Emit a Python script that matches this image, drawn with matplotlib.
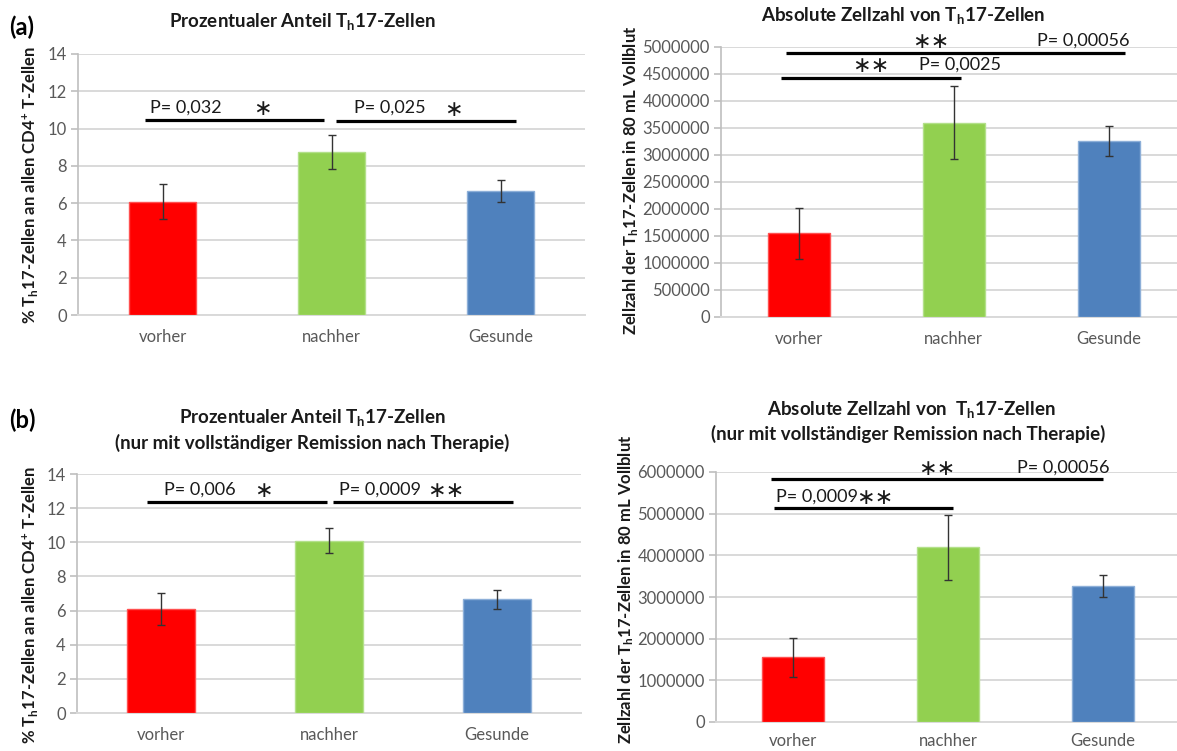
import matplotlib
matplotlib.use("Agg")
import matplotlib.pyplot as plt
from matplotlib.ticker import FuncFormatter

plt.rcParams["font.family"] = ["Lato", "DejaVu Sans"]
plt.rcParams["mathtext.fontset"] = "custom"
plt.rcParams["mathtext.rm"] = "Lato"
plt.rcParams["mathtext.bf"] = "Lato:bold"
plt.rcParams["mathtext.it"] = "Lato:italic"

# ---- data ----
categories = ["vorher", "nachher", "Gesunde"]
bar_colors = ["#FF0000", "#92D050", "#4F81BD"]
edge_colors = ["#FF5050", "#B3E08A", "#8DAFD8"]

pct_all = [6.08, 8.75, 6.65]
pct_all_err = [0.94, 0.90, 0.57]
abs_all = [1550000, 3600000, 3260000]
abs_all_err = [470000, 680000, 270000]

pct_rem = [6.10, 10.10, 6.65]
pct_rem_err = [0.94, 0.73, 0.57]
abs_rem = [1550000, 4200000, 3270000]
abs_rem_err = [470000, 780000, 270000]

W, H = 1177, 751
fig = plt.figure(figsize=(W / 100, H / 100), dpi=100)


def px_axes(left, top, right, bottom):
    return fig.add_axes([left / W, 1 - bottom / H, (right - left) / W, (bottom - top) / H])


def ftext(x, y, s, **kw):
    fig.text(x / W, 1 - y / H, s, **kw)


GRID = "#D9D9D9"
TICK = "#595959"


def bar_panel(ax, values, errors, ymax, ystep, intfmt=False, xpad=10):
    x = range(len(categories))
    ax.bar(x, values, width=0.4, color=bar_colors, edgecolor=edge_colors,
           linewidth=1.0, zorder=3)
    ax.errorbar(x, values, yerr=errors, fmt="none", ecolor="#333333",
                elinewidth=1.0, capsize=2.6, capthick=1.0, zorder=4)
    ax.set_xlim(-0.5, 2.5)
    ax.set_ylim(0, ymax)
    ax.set_yticks([i * ystep for i in range(int(round(ymax / ystep)) + 1)])
    ax.set_xticks(list(x))
    ax.set_xticklabels(categories)
    ax.yaxis.grid(True, color=GRID, linewidth=1.4, zorder=0)
    ax.set_axisbelow(True)
    for s in ("top", "right"):
        ax.spines[s].set_visible(False)
    ax.spines["left"].set_color("#BFBFBF")
    ax.spines["bottom"].set_color(GRID)
    ax.spines["left"].set_linewidth(1.2)
    ax.spines["bottom"].set_linewidth(1.4)
    ax.tick_params(axis="y", length=5, width=1.2, color="#BFBFBF",
                   labelcolor=TICK, labelsize=12, pad=3)
    ax.tick_params(axis="x", length=0, labelcolor=TICK, labelsize=12, pad=xpad)
    if intfmt:
        ax.yaxis.set_major_formatter(FuncFormatter(lambda v, p: "%d" % v))


def bracket(ax, x0, x1, y):
    ax.plot([x0, x1], [y, y], color="black", linewidth=2.3,
            solid_capstyle="butt", clip_on=False, zorder=5)


def note(ax, x, y, s, ha="left"):
    ax.text(x, y, s, ha=ha, va="center", fontsize=13, color="#1A1A1A",
            clip_on=False, zorder=6)


def stars(ax, x, y, n):
    ax.text(x, y, "\u2217" * n, ha="center", va="center", fontsize=16,
            color="#1A1A1A", clip_on=False, zorder=6)


# ---- (a) percentage ----
ax1 = px_axes(78, 54, 585, 315)
bar_panel(ax1, pct_all, pct_all_err, 14, 2)
bracket(ax1, -0.104, 0.956, 10.47)
bracket(ax1, 1.027, 2.09, 10.42)
note(ax1, -0.074, 11.15, "P= 0,032")
stars(ax1, 0.589, 11.05, 1)
note(ax1, 1.133, 11.1, "P= 0,025")
stars(ax1, 1.719, 11.0, 1)

# ---- (a) absolute count ----
ax2 = px_axes(721, 47, 1186, 317)
bar_panel(ax2, abs_all, abs_all_err, 5000000, 500000, intfmt=True)
bracket(ax2, -0.083, 2.105, 4895000)
bracket(ax2, -0.112, 1.05, 4420000)
stars(ax2, 0.852, 5100000, 2)
note(ax2, 1.539, 5120000, "P= 0,00056")
stars(ax2, 0.465, 4650000, 2)
note(ax2, 0.78, 4670000, "P= 0,0025")

# ---- (b) percentage, complete remission ----
ax3 = px_axes(77, 474, 581, 713)
bar_panel(ax3, pct_rem, pct_rem_err, 14, 2)
bracket(ax3, -0.082, 0.987, 12.36)
bracket(ax3, 1.024, 2.095, 12.36)
note(ax3, 0.019, 13.07, "P= 0,006")
stars(ax3, 0.611, 13.0, 1)
note(ax3, 1.057, 13.07, "P= 0,0009")
stars(ax3, 1.696, 13.0, 2)

# ---- (b) absolute count, complete remission ----
ax4 = px_axes(716, 472, 1180, 722)
bar_panel(ax4, abs_rem, abs_rem_err, 6000000, 1000000, intfmt=True, xpad=8)
bracket(ax4, -0.144, 2.005, 5840000)
bracket(ax4, -0.128, 1.034, 5145000)
stars(ax4, 0.93, 6080000, 2)
note(ax4, 1.448, 6100000, "P= 0,00056")
note(ax4, -0.112, 5400000, "P= 0,0009")
stars(ax4, 0.525, 5380000, 2)

# ---- titles and labels ----
TH = r"T$_\mathbf{h}$17-Zellen"
title_kw = dict(ha="center", va="center", fontsize=13.5, fontweight="bold", color="#1A1A1A")
ftext(302, 22, "Prozentualer Anteil " + TH, **title_kw)
ftext(903, 15, "Absolute Zellzahl von " + TH, **title_kw)
ftext(312, 418, "Prozentualer Anteil " + TH, **title_kw)
ftext(312, 443, "(nur mit vollständiger Remission nach Therapie)", **title_kw)
ftext(911, 410, "Absolute Zellzahl von  " + TH, **title_kw)
ftext(908, 434, "(nur mit vollständiger Remission nach Therapie)", **title_kw)

ftext(9, 27, "(a)", ha="left", va="center", fontsize=17, fontweight="bold")
ftext(9, 420, "(b)", ha="left", va="center", fontsize=17, fontweight="bold")

ylab_kw = dict(ha="center", va="center", rotation=90, fontsize=12,
               fontweight="bold", color="#1A1A1A")
ylab_pct = r"% T$_\mathbf{h}$17-Zellen an allen CD4$^\mathbf{+}$ T-Zellen"
ylab_abs = r"Zellzahl der T$_\mathbf{h}$17-Zellen in 80 mL Vollblut"
ftext(30, 185, ylab_pct, **ylab_kw)
ftext(631, 180, ylab_abs, **ylab_kw)
ftext(30, 605, ylab_pct, **ylab_kw)
ftext(626, 589, ylab_abs, **ylab_kw)

fig.savefig("out.png", dpi=100)
